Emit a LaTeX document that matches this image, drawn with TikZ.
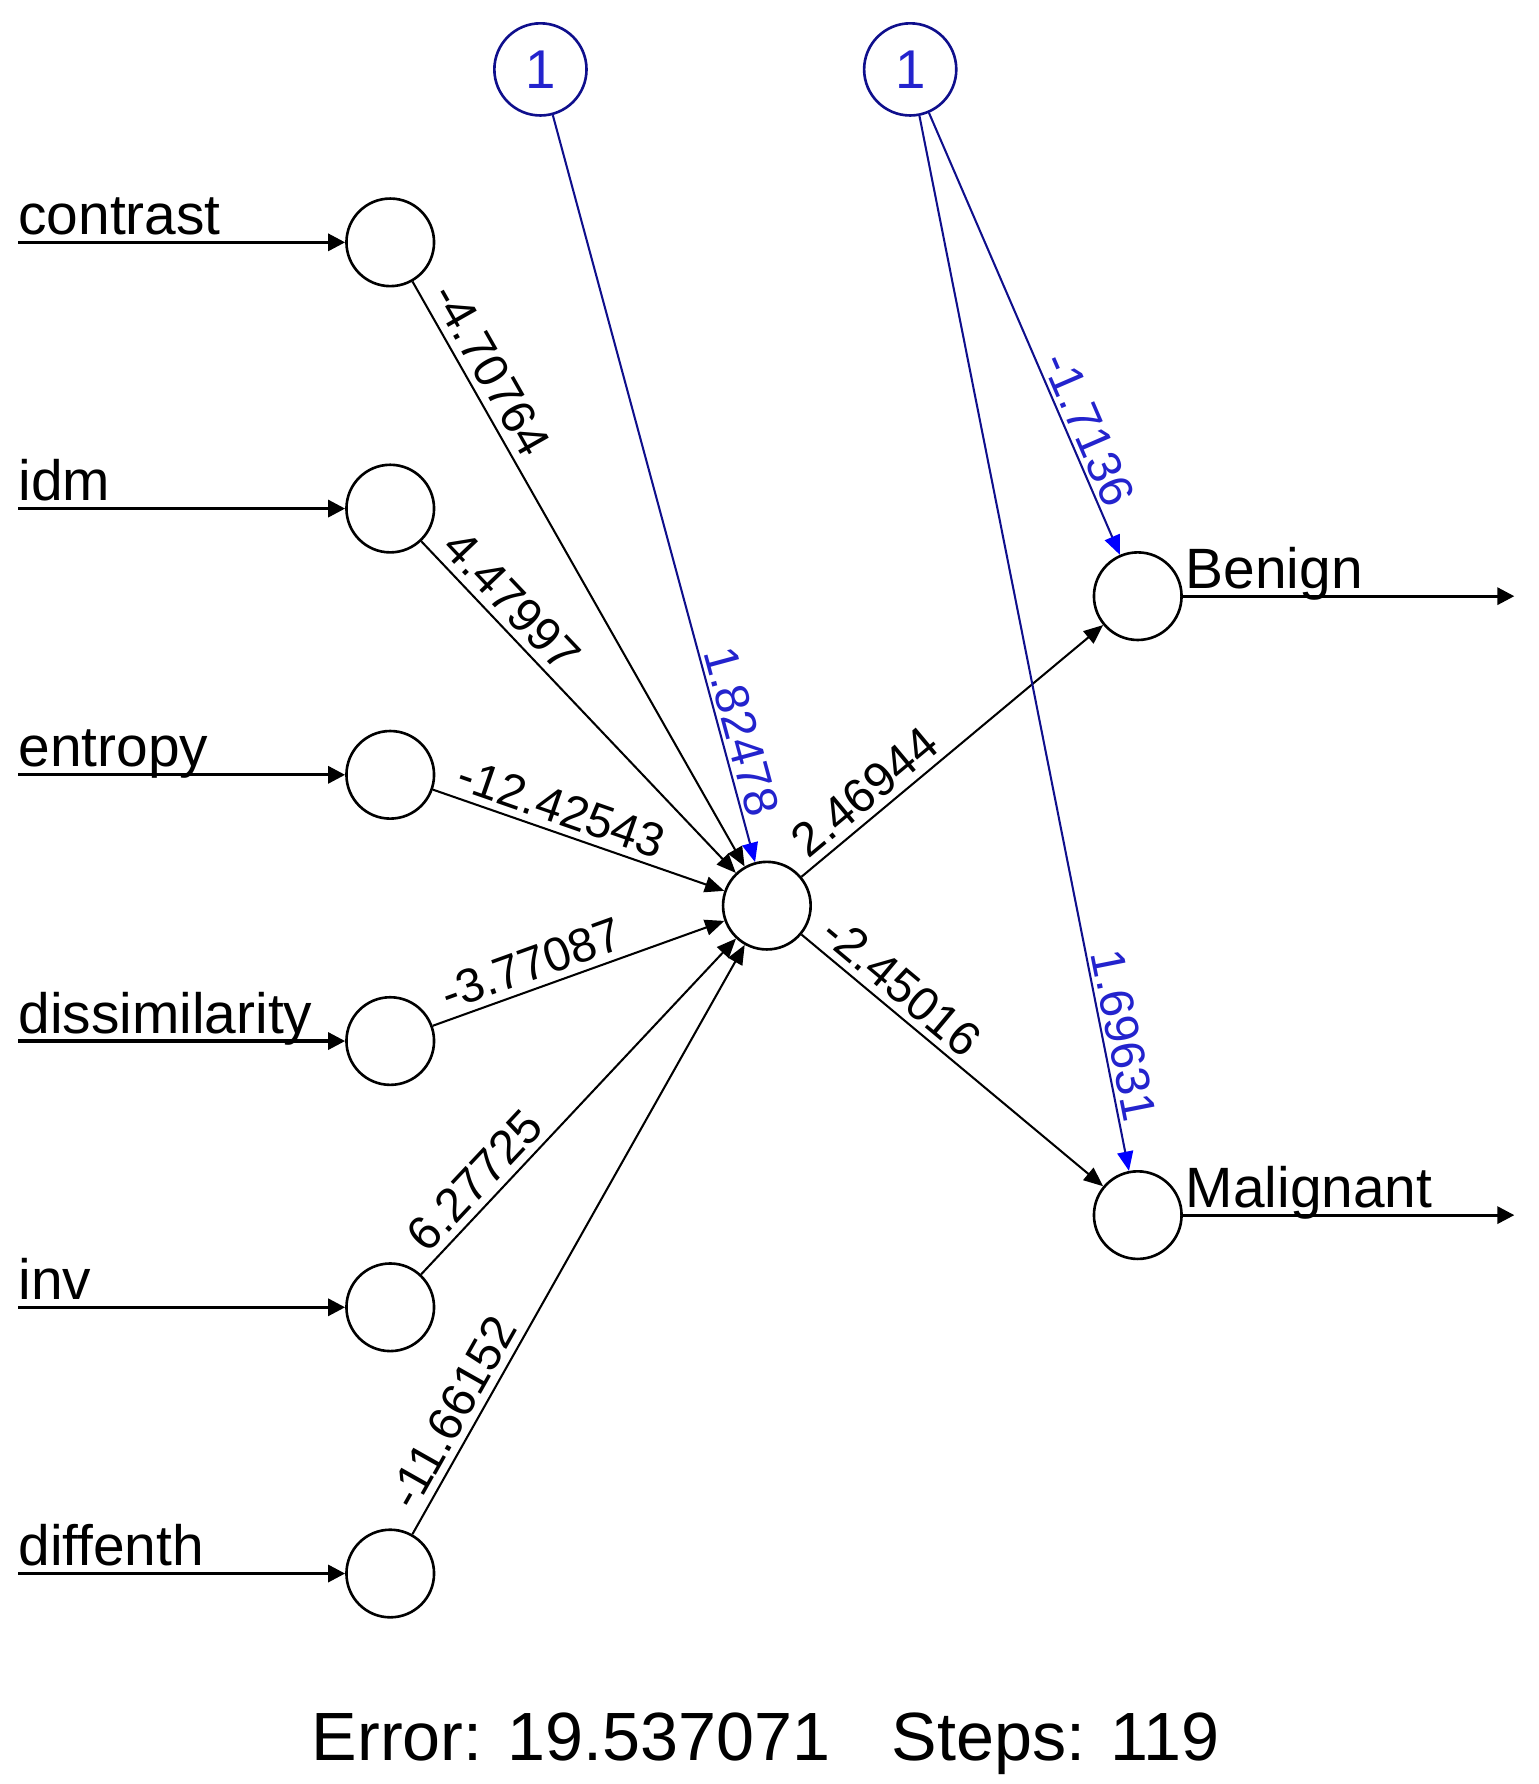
\documentclass[tikz,border=0pt]{standalone}
\usepackage{fontspec}
\setmainfont{Liberation Sans}
\usetikzlibrary{arrows.meta}
\definecolor{bline}{RGB}{15,15,140}
\definecolor{btext}{RGB}{35,35,205}
\definecolor{bhead}{RGB}{0,0,255}
\begin{document}
\begin{tikzpicture}[x=1pt,y=-1pt,
  neuron/.style={circle,draw,line width=2.3pt,minimum size=77pt,inner sep=0pt},
  biasnode/.style={circle,draw=bline,line width=2.3pt,minimum size=81pt,inner sep=0pt,text=btext,font=\fontsize{48}{48}\selectfont},
  conn/.style={line width=1.8pt,-{Triangle[length=17pt,width=14pt]}},
  bconn/.style={line width=1.8pt,draw=bline,-{Triangle[length=17pt,width=14pt,color=bhead]}},
  io/.style={line width=2.8pt,-{Triangle[length=15pt,width=15pt]}},
  vname/.style={anchor=base west,inner sep=0pt,font=\fontsize{50}{50}\selectfont},
  wlab/.style={sloped,anchor=south west,inner sep=6pt,font=\fontsize{42}{42}\selectfont},
  blab/.style={sloped,anchor=south east,inner sep=3pt,font=\fontsize{42}{42}\selectfont,text=btext},
]
\useasboundingbox (0,0) rectangle (1352,1568);

% input neurons
\node[neuron] (in1) at (343,213) {};
\node[neuron] (in2) at (343,447) {};
\node[neuron] (in3) at (343,681) {};
\node[neuron] (in4) at (343,915) {};
\node[neuron] (in5) at (343,1149) {};
\node[neuron] (in6) at (343,1383) {};
% hidden, bias, output
\node[neuron] (h) at (674,796) {};
\node[biasnode] (b1) at (475,61) {1};
\node[biasnode] (b2) at (800,61) {1};
\node[neuron] (o1) at (1000,524) {};
\node[neuron] (o2) at (1000,1068) {};

% input arrows
\coordinate (s1) at (16,213);
\coordinate (s2) at (16,447);
\coordinate (s3) at (16,681);
\coordinate (s4) at (16,915);
\coordinate (s5) at (16,1149);
\coordinate (s6) at (16,1383);
\draw[io] (s1) -- (in1);
\draw[io] (s2) -- (in2);
\draw[io] (s3) -- (in3);
\draw[io] (s4) -- (in4);
\draw[io] (s5) -- (in5);
\draw[io] (s6) -- (in6);
\node[vname] (l1) at (16,206) {contrast};
\node[vname] (l2) at (16,440) {idm};
\node[vname] (l3) at (16,674) {entropy};
\node[vname] (l4) at (16,908) {dissimilarity};
\node[vname] (l5) at (16,1142) {inv};
\node[vname] (l6) at (16,1376) {diffenth};

% output arrows
\coordinate (e1) at (1331,524);
\coordinate (e2) at (1331,1068);
\draw[io] (o1) -- (e1);
\draw[io] (o2) -- (e2);
\node[vname] (lo1) at (1042,517) {Benign};
\node[vname] (lo2) at (1042,1061) {Malignant};

% input -> hidden
\draw[conn] (in1) -- node[wlab,pos=0.02] {-4.70764} (h);
\draw[conn] (in2) -- node[wlab,pos=0.026] {4.47997} (h);
\draw[conn] (in3) -- node[wlab,pos=0.04] {-12.42543} (h);
\draw[conn] (in4) -- node[wlab,pos=0.038] {-3.77087} (h);
\draw[conn] (in5) -- node[wlab,pos=0.024] {6.27725} (h);
\draw[conn] (in6) -- node[wlab,pos=0.018] {-11.66152} (h);
% hidden -> output
\draw[conn] (h) -- node[wlab,pos=0.022] {2.46944} (o1);
\draw[conn] (h) -- node[wlab,pos=0.02] {-2.45016} (o2);
% bias
\draw[bconn] (b1) -- node[blab,pos=0.95] {1.82478} (h);
\draw[bconn] (b2) -- node[blab,pos=0.912] {-1.7136} (o1);
\draw[bconn] (b2) -- node[blab,pos=0.96] {1.69631} (o2);

% footer
\node[anchor=base,inner sep=0pt,font=\fontsize{60}{60}\selectfont] (err) at (673,1547) {Error: 19.537071\hspace{0.9em}Steps: 119};
\end{tikzpicture}
\end{document}
